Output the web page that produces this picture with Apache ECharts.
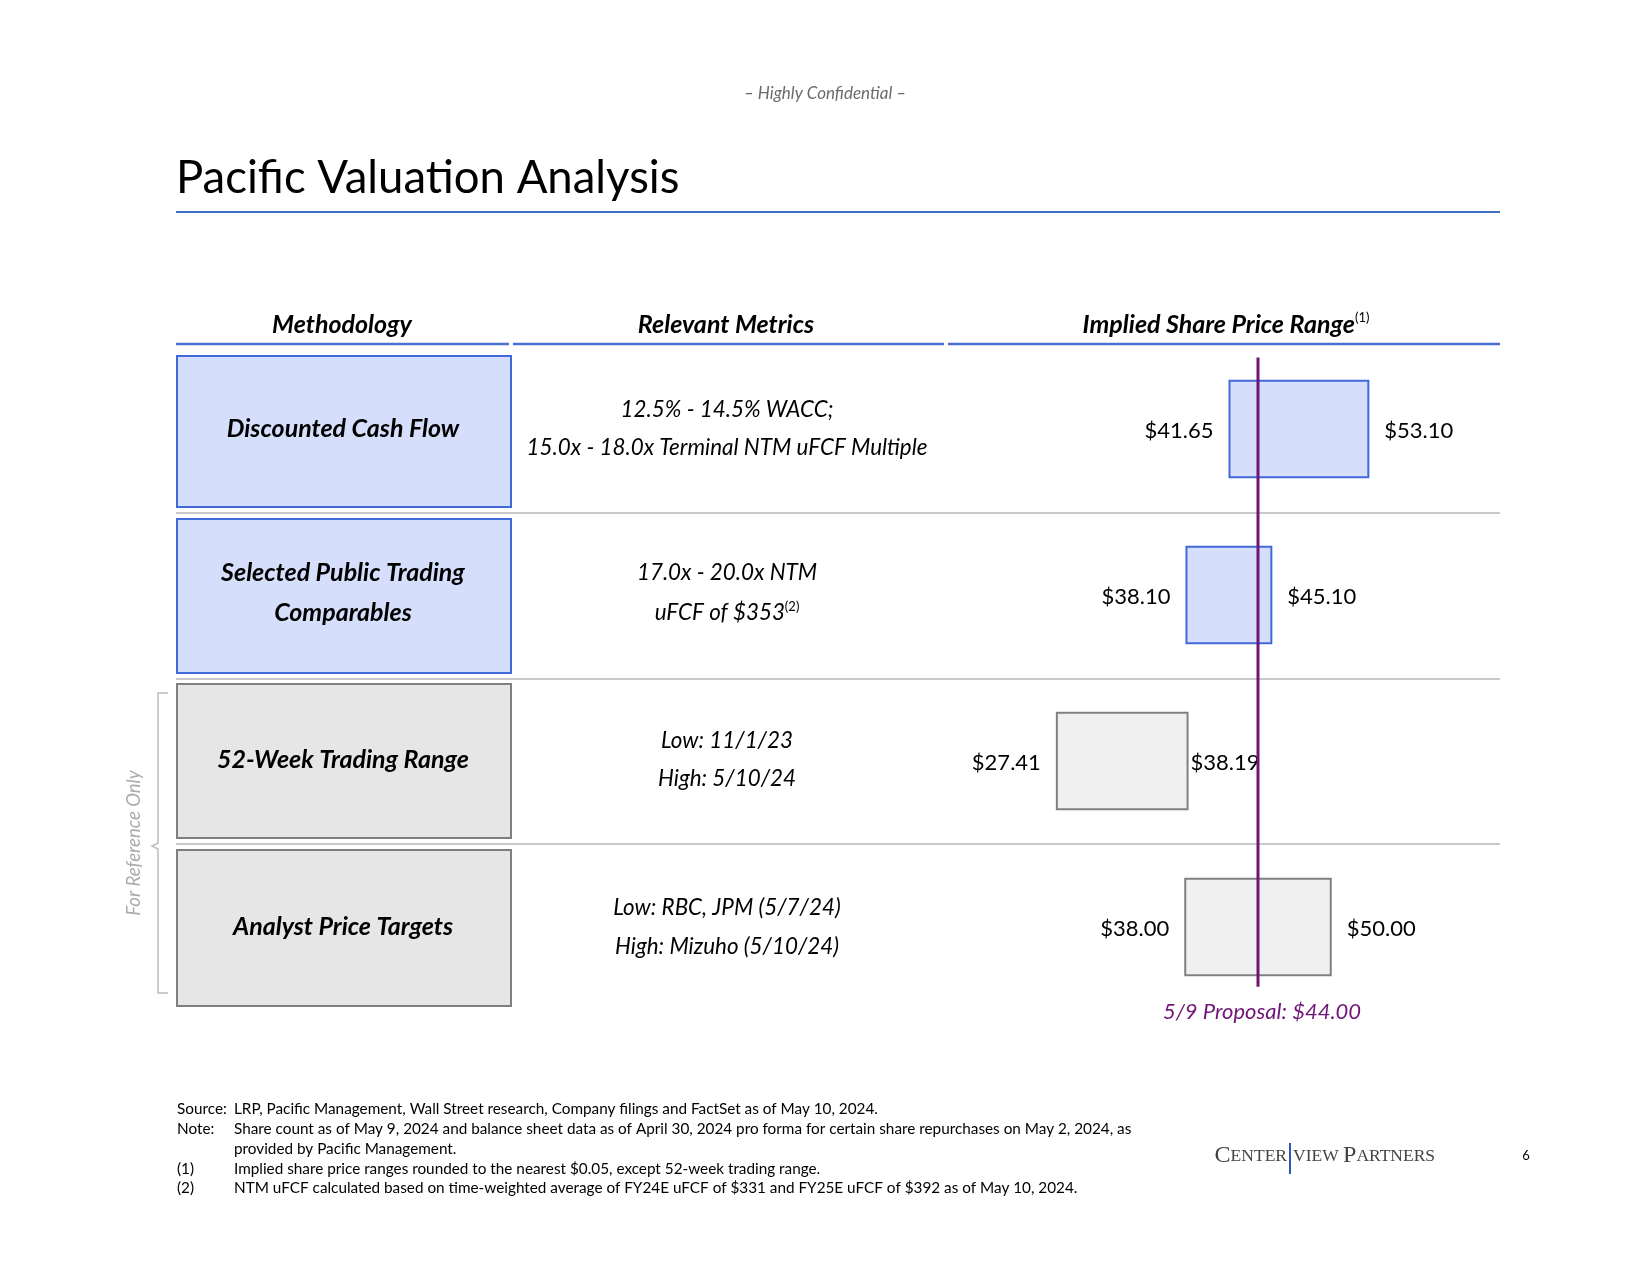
<!DOCTYPE html>
<html><head><meta charset="utf-8">
<script src="https://cdn.jsdelivr.net/npm/echarts@6/dist/echarts.min.js"></script>
<style>html,body{margin:0;padding:0;background:#fff}#c{width:1650px;height:1275px}</style>
</head><body><div id="c"></div>
<script>
// ---- data ----
const methodologies = ['Discounted Cash Flow', 'Selected Public Trading\nComparables', '52-Week Trading Range', 'Analyst Price Targets'];
const metricLine1 = ['12.5% - 14.5% WACC;', '17.0x - 20.0x NTM', 'Low: 11/1/23', 'Low: RBC, JPM (5/7/24)'];
const metricLine2 = ['15.0x - 18.0x Terminal NTM uFCF Multiple', 'uFCF of $353', 'High: 5/10/24', 'High: Mizuho (5/10/24)'];
const metricNote = ['', '(2)', '', ''];
const lowValues = [41.65, 38.10, 27.41, 38.00];
const highValues = [53.10, 45.10, 38.19, 50.00];
const proposalValue = 44.00;
const proposalLabel = '5/9 Proposal: $44.00';
const headers = ['Methodology', 'Relevant Metrics', 'Implied Share Price Range'];

// ---- styles ----
const FONT = 'Lato, "Open Sans", sans-serif';
const BLUE_FILL = '#d5dffb', BLUE_LINE = '#4169db';
const GRAY_FILL = '#f0f0f0', GRAY_BOX = '#e6e6e6', GRAY_LINE = '#808080';
const PURPLE = '#6e1577';
const rowIsBlue = [true, true, false, false];
const highGap = [16, 16, 3, 16];
const boxTop = [356, 519, 684, 850], boxBottom = [507, 673, 838, 1006];
const boxText = [429, 593, 760, 927];
const metricY1 = [410, 573, 741, 908], metricY2 = [448, 613, 779, 947];

const g = [];
// confidential + title
g.push({type:'text', x: 825, y: 94, style:{text:'– Highly Confidential –', fill:'#6b6b6b', font:'italic 17px ' + FONT, align:'center', verticalAlign:'middle'}});
g.push({type:'text', x: 176, y: 155, style:{text:'Pacific Valuation Analysis', fill:'#000', font:'45.5px ' + FONT}});
g.push({type:'line', shape:{x1:176, y1:212, x2:1500, y2:212}, style:{stroke:'#3d6fc4', lineWidth:2}});
// headers
const hx = [342, 726, 1226];
headers.forEach((h, i) => {
  g.push({type:'text', x: hx[i], y: 325, style:{
    text: i === 2 ? '{a|' + h + '}{s|(1)}' : '{a|' + h + '}',
    align:'center', verticalAlign:'middle',
    rich:{a:{font:'italic bold 25px ' + FONT, fill:'#000', lineHeight:28}, s:{font:'13px ' + FONT, fill:'#000', verticalAlign:'top', lineHeight:28}}
  }});
});
[[176,509],[513,944],[948,1500]].forEach(s => g.push({type:'line', shape:{x1:s[0], y1:344, x2:s[1], y2:344}, style:{stroke:'#4a70d6', lineWidth:2.5}}));
// separators
[513, 679, 844].forEach(y => g.push({type:'line', shape:{x1:176, y1:y, x2:1500, y2:y}, style:{stroke:'#c8c8c8', lineWidth:2}}));
// methodology boxes + metrics
methodologies.forEach((m, i) => {
  g.push({type:'rect', shape:{x:177, y:boxTop[i], width:334, height:boxBottom[i]-boxTop[i]},
    style:{fill: rowIsBlue[i] ? BLUE_FILL : GRAY_BOX, stroke: rowIsBlue[i] ? BLUE_LINE : GRAY_LINE, lineWidth:2}});
  g.push({type:'text', x:343, y:boxText[i], style:{text:m, align:'center', verticalAlign:'middle', font:'italic bold 25px ' + FONT, fill:'#000', lineHeight:40}});
  g.push({type:'text', x:727, y:metricY1[i], style:{text:metricLine1[i], align:'center', verticalAlign:'middle', font:'italic 22.4px ' + FONT, fill:'#000'}});
  g.push({type:'text', x:727, y:metricY2[i], style:{
    text:'{a|' + metricLine2[i] + '}' + (metricNote[i] ? '{s|' + metricNote[i] + '}' : ''),
    align:'center', verticalAlign:'middle',
    rich:{a:{font:'italic 22.4px ' + FONT, fill:'#000', lineHeight:26}, s:{font:'13px ' + FONT, fill:'#000', verticalAlign:'top', lineHeight:26}}}});
});
// For reference only bracket
g.push({type:'polyline', shape:{points:[[168,693],[158,693],[158,843],[152,846],[158,849],[158,993],[168,993]]}, style:{stroke:'#bdbdbd', lineWidth:1.5, fill:null}});
g.push({type:'text', x:134, y:843, rotation:Math.PI/2, style:{text:'For Reference Only', align:'center', verticalAlign:'middle', font:'italic 18.5px ' + FONT, fill:'#ababab'}});
// footnotes
const fnY = [1109, 1129, 1149, 1169, 1188];
const fnLabel = ['Source:', 'Note:', '', '(1)', '(2)'];
const fnText = ['LRP, Pacific Management, Wall Street research, Company filings and FactSet as of May 10, 2024.',
  'Share count as of May 9, 2024 and balance sheet data as of April 30, 2024 pro forma for certain share repurchases on May 2, 2024, as',
  'provided by Pacific Management.',
  'Implied share price ranges rounded to the nearest $0.05, except 52-week trading range.',
  'NTM uFCF calculated based on time-weighted average of FY24E uFCF of $331 and FY25E uFCF of $392 as of May 10, 2024.'];
fnY.forEach((y, i) => {
  if (fnLabel[i]) g.push({type:'text', x:177, y:y, style:{text:fnLabel[i], verticalAlign:'middle', font:'15.3px ' + FONT, fill:'#000'}});
  g.push({type:'text', x:234, y:y, style:{text:fnText[i], verticalAlign:'middle', font:'15.3px ' + FONT, fill:'#000'}});
});
// logo
const LOGO_RICH = {b:{font:'24px "Liberation Serif", serif', fill:'#444'}, s:{font:'17.5px "Liberation Serif", serif', fill:'#444'}};
g.push({type:'text', x:1287, y:1168, style:{text:'{b|C}{s|ENTER}', align:'right', verticalAlign:'bottom', rich:LOGO_RICH}});
g.push({type:'line', shape:{x1:1290, y1:1143, x2:1290, y2:1174}, style:{stroke:'#2d56b8', lineWidth:2}});
g.push({type:'text', x:1293, y:1168, style:{text:'{s|VIEW }{b|P}{s|ARTNERS}', verticalAlign:'bottom', rich:LOGO_RICH}});
g.push({type:'text', x:1526, y:1156, style:{text:'6', align:'center', verticalAlign:'middle', font:'13px ' + FONT, fill:'#000'}});

const fmt = v => '$' + v.toFixed(2);
const chart = echarts.init(document.getElementById('c'));
chart.setOption({
  animation:false,
  backgroundColor:'#fff',
  grid:{left:967, width:485, top:346, height:664},
  xAxis:{type:'value', min:20, max:60, show:false},
  yAxis:{type:'category', data:methodologies, inverse:true, show:false},
  graphic: g,
  series:[
    {type:'custom', z:2,
     data: lowValues.map((l, i) => [l, highValues[i], i]),
     encode:{x:[0,1], y:2},
     renderItem:(params, api) => {
       const i = api.value(2);
       const lo = api.coord([api.value(0), i]);
       const hi = api.coord([api.value(1), i]);
       const h = api.size([0, 1])[1] * 0.58;
       const blue = rowIsBlue[i];
       return {type:'group', children:[
         {type:'rect', shape:{x:lo[0], y:lo[1]-h/2, width:hi[0]-lo[0], height:h},
          style:{fill: blue ? BLUE_FILL : GRAY_FILL, stroke: blue ? BLUE_LINE : GRAY_LINE, lineWidth:2}},
         {type:'text', x:lo[0]-16, y:lo[1]+2, style:{text:fmt(api.value(0)), align:'right', verticalAlign:'middle', font:'22px ' + FONT, fill:'#000'}},
         {type:'text', x:hi[0]+highGap[i], y:hi[1]+2, style:{text:fmt(api.value(1)), align:'left', verticalAlign:'middle', font:'22px ' + FONT, fill:'#000'}}
       ]};
     }},
    {type:'custom', z:5,
     data:[[proposalValue, 0, methodologies.length-1]],
     encode:{x:0, y:[1,2]},
     renderItem:(params, api) => {
       const top = api.coord([api.value(0), api.value(1)]);
       const bot = api.coord([api.value(0), api.value(2)]);
       const band = api.size([0, 1])[1];
       const y1 = top[1] - band*0.43, y2 = bot[1] + band*0.36;
       return {type:'group', children:[
         {type:'line', shape:{x1:top[0], y1:y1, x2:top[0], y2:y2}, style:{stroke:PURPLE, lineWidth:3}},
         {type:'text', x:top[0]+4, y:y2+25, style:{text:proposalLabel, align:'center', verticalAlign:'middle', font:'italic 22px ' + FONT, fill:PURPLE}}
       ]};
     }}
  ]
});
</script></body></html>
